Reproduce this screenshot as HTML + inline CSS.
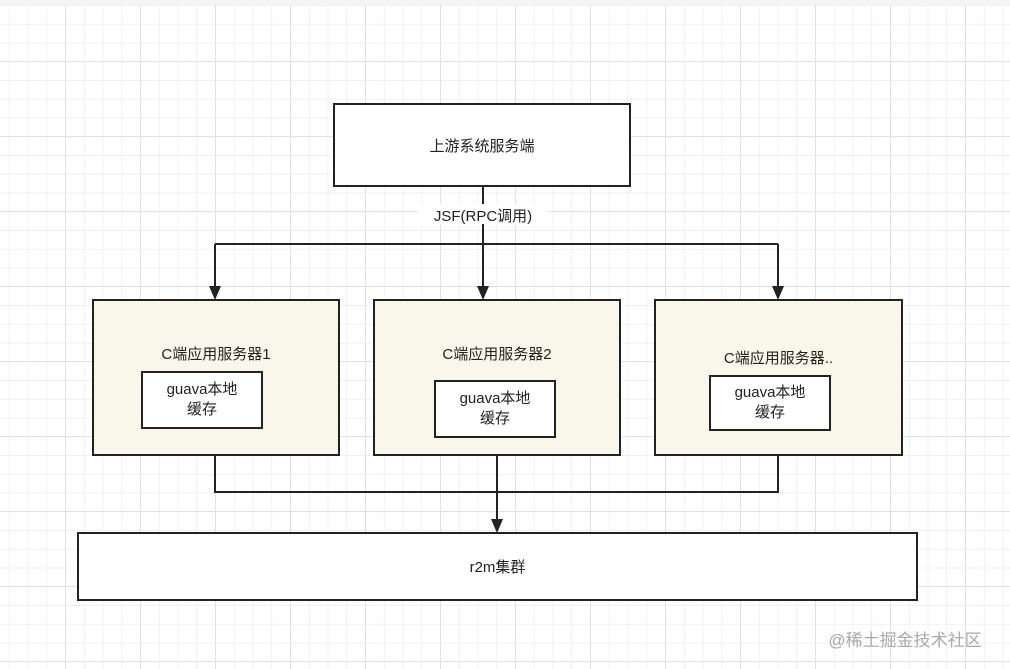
<!DOCTYPE html>
<html><head><meta charset="utf-8"><style>
html,body{margin:0;padding:0;}
body{width:1010px;height:669px;overflow:hidden;background:#fff;position:relative;
font-family:"Liberation Sans","Noto Sans CJK SC",sans-serif;}
.grid{position:absolute;left:0;top:5px;width:1010px;height:664px;
background-image:
linear-gradient(#e2e2e2 1px,transparent 1px),
linear-gradient(90deg,#e2e2e2 1px,transparent 1px),
linear-gradient(#f0f0f0 1px,transparent 1px),
linear-gradient(90deg,#f0f0f0 1px,transparent 1px);
background-size:75px 75px,75px 75px,18.75px 18.75px,18.75px 18.75px;
background-position:0 -19px,-10px 0,0 0,-10px 0;}
.top{position:absolute;left:0;top:0;width:1010px;height:5px;background:#f4f4f4;border-bottom:1px solid #ddd;}
.b{position:absolute;box-sizing:border-box;border:2px solid #222;background:#fff;display:flex;align-items:center;justify-content:center;text-align:center;font-size:15px;color:#222;}
.y{background:#f9f7e9;}
.t{position:absolute;font-size:15px;color:#222;text-align:center;}
.in{line-height:20px;}
</style></head><body>
<div class="top"></div>
<div class="grid"></div>
<svg width="1010" height="669" style="position:absolute;left:0;top:0">
<g stroke="#222" stroke-width="2" fill="none">
<path d="M483 186V290M215 244H778M215 244V290M778 244V290"/>
<path d="M215 455V492H778V455M497 455V522"/>
</g>
<g fill="#222">
<path d="M209 286L215 300L221 286Z"/><path d="M477 286L483 300L489 286Z"/>
<path d="M772 286L778 300L784 286Z"/><path d="M491 519L497 533L503 519Z"/>
</g>
<rect x="418" y="204" width="130" height="20" fill="#fff"/>
</svg>
<div class="t" style="left:398px;top:205px;width:170px;">JSF(RPC调用)</div>
<div class="b" style="left:333px;top:103px;width:298px;height:84px;">上游系统服务端</div>
<div class="b y" style="left:92px;top:299px;width:248px;height:157px;"></div>
<div class="b y" style="left:373px;top:299px;width:248px;height:157px;"></div>
<div class="b y" style="left:654px;top:299px;width:249px;height:157px;"></div>
<div class="t" style="left:92px;top:343px;width:248px;">C端应用服务器1</div>
<div class="t" style="left:373px;top:343px;width:248px;">C端应用服务器2</div>
<div class="t" style="left:654px;top:347px;width:249px;">C端应用服务器..</div>
<div class="b in" style="left:141px;top:371px;width:122px;height:58px;">guava本地<br>缓存</div>
<div class="b in" style="left:434px;top:380px;width:122px;height:58px;">guava本地<br>缓存</div>
<div class="b in" style="left:709px;top:375px;width:122px;height:56px;">guava本地<br>缓存</div>
<div class="b" style="left:77px;top:532px;width:841px;height:69px;">r2m集群</div>
<div class="t" style="left:812px;top:626px;width:186px;font-size:17px;color:#aaa;">@稀土掘金技术社区</div>
</body></html>
